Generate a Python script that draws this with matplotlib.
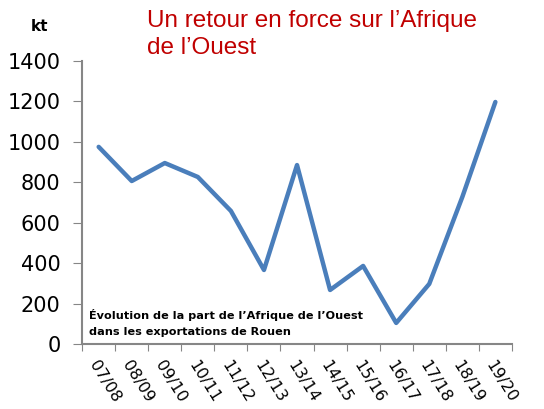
import matplotlib.pyplot as plt

# campagnes et exportations vers l'Afrique de l'Ouest (kt)
campagnes = ['07/08', '08/09', '09/10', '10/11', '11/12', '12/13', '13/14',
             '14/15', '15/16', '16/17', '17/18', '18/19', '19/20']
volumes = [975, 806, 895, 826, 658, 366, 885, 267, 386, 104, 297, 727, 1197]

fig = plt.figure(figsize=(5.44, 4.09), dpi=100)
ax = fig.add_axes([0.151, 0.159, 0.79, 0.692])

x = list(range(len(campagnes)))
ax.plot(x, volumes, color='#4a7ebb', linewidth=3.2, solid_capstyle='round')

ax.set_xlim(-0.5, len(campagnes) - 0.5)
ax.set_ylim(0, 1400)
ax.set_yticks(range(0, 1401, 200))
ax.set_xticks([i - 0.5 for i in range(len(campagnes) + 1)], minor=False)
ax.set_xticklabels([])
ax.set_xticks(x, minor=True)
ax.set_xticklabels(campagnes, minor=True, rotation=-58, ha='left',
                   va='top', rotation_mode='anchor', fontsize=11.5)
ax.tick_params(axis='x', which='minor', length=0, pad=10)
ax.tick_params(axis='x', which='major', length=5, color='#868686')
ax.tick_params(axis='y', length=6.5, color='#868686', labelsize=15, pad=9)

for side in ['top', 'right']:
    ax.spines[side].set_visible(False)
for side in ['left', 'bottom']:
    ax.spines[side].set_color('#868686')
    ax.spines[side].set_linewidth(1.5)

fig.text(0.072, 0.935, 'kt', fontsize=11, fontweight='bold', ha='center', va='center')
fig.text(0.27, 0.975, 'Un retour en force sur l\u2019Afrique\nde l\u2019Ouest',
         color='#c00000', fontsize=17.5, ha='left', va='top', linespacing=1.3,
         family='Liberation Sans')
ax.text(0.015, 0.074, '\u00c9volution de la part de l\u2019Afrique de l\u2019Ouest\n'
        'dans les exportations de Rouen', transform=ax.transAxes,
        fontsize=8.1, fontweight='bold', ha='left', va='center', linespacing=1.75)

fig.savefig('out.png', dpi=100)
